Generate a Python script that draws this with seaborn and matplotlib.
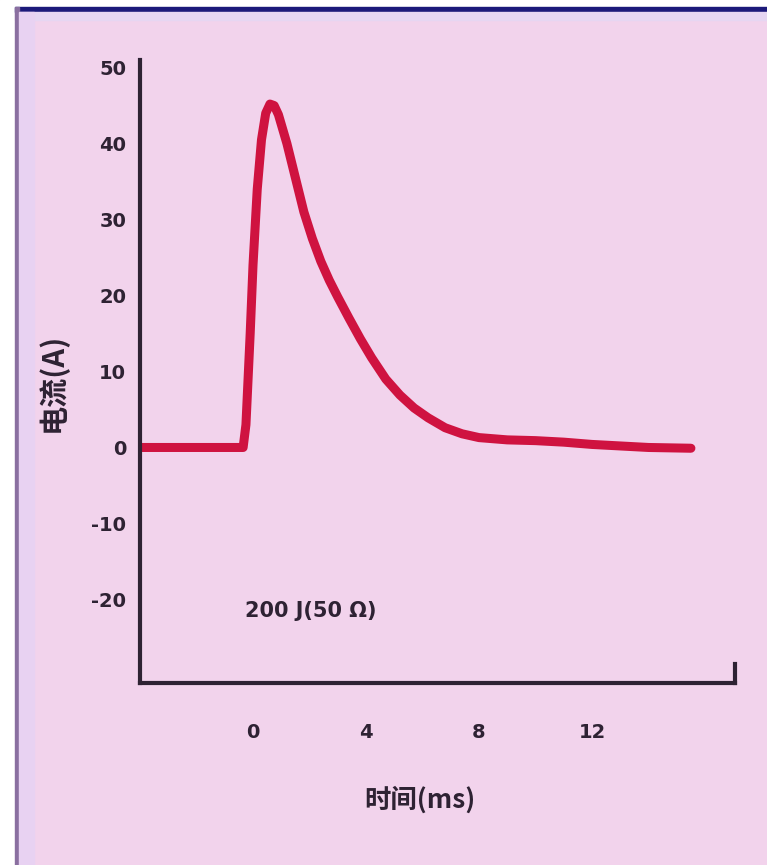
import matplotlib
matplotlib.use("Agg")
import matplotlib.pyplot as plt
import seaborn as sns
import pandas as pd
from matplotlib.patches import Rectangle

# Data (time in ms, current in A)
time_ms = [-4.0, -0.35, -0.25, -0.1, 0.0, 0.15, 0.3, 0.45, 0.6, 0.75, 0.9, 1.2, 1.5, 1.8, 2.1, 2.4,
           2.7, 3.0, 3.4, 3.8, 4.2, 4.7, 5.2, 5.7, 6.2, 6.8, 7.4, 8.0, 9.0, 10.0, 11.0, 12.0,
           13.0, 14.0, 15.5]
current_a = [0.0, 0.0, 3.0, 15.0, 24.0, 34.0, 40.5, 44.0, 45.2, 45.0, 43.8, 40.0, 35.5, 31.0, 27.5,
             24.5, 22.0, 19.8, 17.0, 14.3, 11.8, 9.0, 6.9, 5.2, 3.9, 2.6, 1.8, 1.3, 1.0, 0.9,
             0.7, 0.4, 0.2, 0.0, -0.1]

x_ticks = [0, 4, 8, 12]
y_ticks = [-20, -10, 0, 10, 20, 30, 40, 50]
x_label = "时间(ms)"
y_label = "电流(A)"
note = "200 J(50 Ω)"

df = pd.DataFrame({"t": time_ms, "i": current_a})

sns.set_theme(style="white")
plt.rcParams["font.family"] = ["DejaVu Sans", "Noto Sans CJK SC"]

bg = "#f2d3ec"
ink = "#2e2233"

fig = plt.figure(figsize=(7.67, 8.65), dpi=100)
fig.patch.set_facecolor(bg)

W, H = 767, 865
def frect(x0, y0, x1, y1, color):
    fig.patches.append(Rectangle((x0 / W, 1 - y1 / H), (x1 - x0) / W, (y1 - y0) / H,
                                 transform=fig.transFigure, color=color, zorder=-10))

# scan frame decoration
frect(0, 0, 767, 7, "white")
frect(0, 0, 15, 865, "white")
frect(15, 7, 767, 12, "#1c1a7a")
frect(15, 12, 767, 20, "#e6d6f2")
frect(15, 7, 19, 865, "#8a6fa0")
frect(19, 12, 34, 865, "#e8d2f2")

left, right, top, bottom = 140, 735, 60, 683
ax = fig.add_axes([left / W, 1 - bottom / H, (right - left) / W, (bottom - top) / H])
ax.set_facecolor("none")

sns.lineplot(data=df, x="t", y="i", ax=ax, color="#cf1340", linewidth=6.5,
             solid_capstyle="round", solid_joinstyle="round")

xlim = (-4.0, 17.06)
ylim = (-31.0, 51.0)
ax.set_xlim(*xlim)
ax.set_ylim(*ylim)

ax.set_xticks(x_ticks)
ax.set_yticks(y_ticks)
ax.set_xticklabels([str(v) for v in x_ticks], fontsize=14, fontweight="bold", color=ink)
ax.set_yticklabels([str(v) for v in y_ticks], fontsize=14, fontweight="bold", color=ink)
ax.tick_params(axis="both", direction="out", length=7, width=2.5, color=ink, pad=3)
ax.tick_params(axis="x", pad=22)

ax.spines["top"].set_visible(False)
for s in ["left", "bottom", "right"]:
    ax.spines[s].set_visible(True)
    ax.spines[s].set_color(ink)
    ax.spines[s].set_linewidth(3)
ax.spines["right"].set_bounds(ylim[0], ylim[0] + 2.5)

ax.set_xlabel("")
ax.set_ylabel("")
fig.text(420 / W, 1 - 800 / H, x_label, ha="center", va="center", fontsize=19,
         fontweight="bold", color=ink, family=["Noto Sans CJK SC", "DejaVu Sans"])
fig.text(52 / W, 1 - 382 / H, y_label, ha="center", va="center", fontsize=21, rotation=90,
         fontweight="bold", color=ink, family=["Noto Sans CJK SC", "DejaVu Sans"])

ax.text(-0.3, -21.5, note, ha="left", va="center", fontsize=15, fontweight="bold", color=ink,
        family=["DejaVu Sans", "Noto Sans CJK SC"])

fig.savefig("out.png", dpi=100, facecolor=fig.get_facecolor())
